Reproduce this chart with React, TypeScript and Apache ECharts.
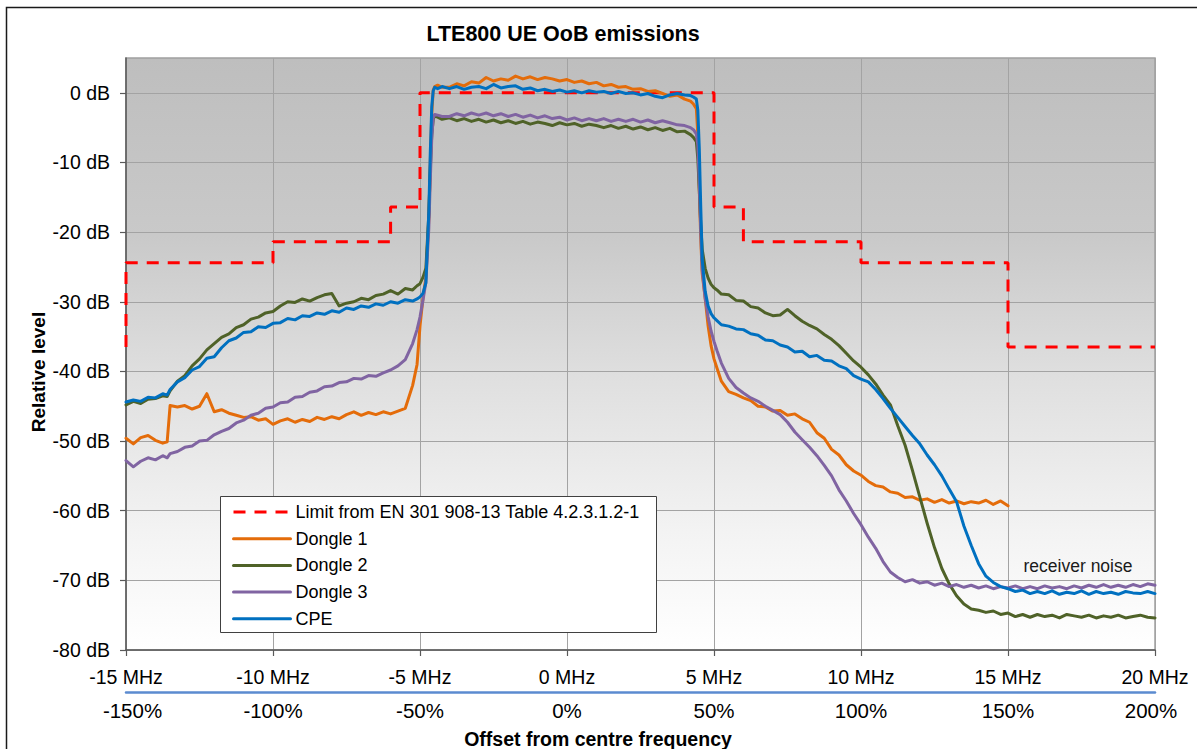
import React, { useEffect, useRef } from 'react';
import * as echarts from 'echarts';

// Frequency offset grid (MHz) shared by the measured traces
const FREQ_MHZ = [
  -15, -14.75, -14.5, -14.25, -14, -13.75, -13.6, -13.5, -13.25, -13, -12.75, -12.5, -12.25, -12, -11.75, -11.5, -11.25, -11, -10.75, -10.5, -10.25, -10, -9.75, -9.5, -9.25, -9, -8.75, -8.5, -8.25, -8, -7.75, -7.5, -7.25, -7, -6.75, -6.5, -6.25, -6, -5.75, -5.5, -5.25,
  -5.1, -5, -4.9, -4.8, -4.7, -4.65, -4.6, -4.55, -4.5, -4.4, -4.25,
  -4, -3.75, -3.5, -3.25, -3, -2.75, -2.5, -2.25, -2, -1.75, -1.5, -1.25, -1, -0.75, -0.5, -0.25, 0, 0.25, 0.5, 0.75, 1, 1.25, 1.5, 1.75, 2, 2.25, 2.5, 2.75, 3, 3.25, 3.5, 3.75, 4,
  4.2, 4.3, 4.4, 4.45, 4.5, 4.55, 4.6, 4.7, 4.8, 4.9, 5, 5.1, 5.25,
  5.5, 5.75, 6, 6.25, 6.5, 6.75, 7, 7.25, 7.5, 7.75, 8, 8.25, 8.5, 8.75, 9, 9.25, 9.5, 9.75, 10, 10.25, 10.5, 10.75, 11, 11.25, 11.5, 11.75, 12, 12.25, 12.5, 12.75, 13, 13.25, 13.5, 13.75, 14, 14.25, 14.5, 14.75, 15, 15.25, 15.5, 15.75, 16, 16.25, 16.5, 16.75, 17, 17.25, 17.5, 17.75, 18, 18.25, 18.5, 18.75, 19, 19.25, 19.5, 19.75, 20,
];

const DONGLE1_DB = [
  -49.6, -50.4, -49.5, -49.2, -49.9, -50.3, -50.1, -44.9, -45.1, -44.9, -45.4, -45.0, -43.2, -45.8, -45.5, -46.0, -46.3, -46.6, -46.5, -47.0, -46.8, -47.6, -47.1, -46.8, -47.3, -46.9, -47.2, -46.6, -46.9, -46.5, -46.8, -46.2, -45.8, -46.3, -45.9, -46.2, -45.8, -46.1, -45.7, -45.3, -42.0,
  -39.0, -33.5, -29.5, -26.5, -18, -10, -3, 0.4, 0.9, 1.1, 0.8,
  0.8, 1.3, 1.0, 1.6, 1.4, 2.2, 1.7, 2.0, 1.8, 2.4, 2.0, 2.3, 1.9, 2.2, 2.0, 1.7, 1.9, 1.5, 1.7, 1.3, 1.5, 1.0, 1.2, 0.8, 0.9, 0.5, 0.6, 0.2, 0.3, -0.1, -0.5, -0.3, -0.9,
  -1.2, -1.6, -2.3, -6, -14, -21, -26, -29.5, -33.5, -36.3, -38.2, -39.5, -41.4,
  -42.9, -43.3, -43.8, -44.2, -45.0, -45.1, -45.7, -45.6, -46.3, -46.1, -46.8, -47.3, -48.8, -49.6, -51.2, -52.0, -53.4, -54.3, -54.9, -55.8, -56.4, -56.6, -57.3, -57.5, -58.1, -58.0, -58.5, -58.3, -58.8, -58.4, -58.9, -58.6, -59.0, -58.7, -58.9, -58.5, -59.1, -58.6, -59.3,
  null, null, null, null, null, null, null, null, null, null, null, null, null, null, null, null, null, null, null, null,
];

const DONGLE2_DB = [
  -44.8, -44.3, -44.6, -44.0, -43.9, -43.5, -43.6, -42.8, -41.4, -40.6, -39.2, -38.2, -36.9, -36.0, -35.1, -34.6, -33.7, -33.3, -32.5, -32.2, -31.6, -31.4, -30.6, -30.0, -30.1, -29.6, -29.9, -29.4, -29.0, -28.8, -30.6, -30.2, -30.0, -29.5, -29.7, -29.1, -28.9, -28.4, -28.9, -28.1, -28.3,
  -27.7, -27.4, -26.5, -25.2, -17.5, -11, -6, -3.8, -3.3, -3.5, -3.8,
  -3.6, -4.0, -3.7, -4.1, -3.8, -4.2, -3.9, -4.3, -4.0, -4.4, -4.1, -4.5, -4.2, -4.4, -4.7, -4.3, -4.6, -4.4, -4.8, -4.5, -4.7, -5.0, -4.7, -5.1, -4.8, -5.2, -4.9, -5.3, -5.0, -5.4, -5.1, -5.6, -5.5,
  -6.0, -6.4, -7.0, -9.5, -14, -19, -22.5, -25.2, -26.6, -27.5, -28.0, -28.3, -28.9,
  -29.0, -29.8, -29.9, -30.7, -30.9, -31.6, -32.0, -31.9, -31.1, -32.0, -32.8, -33.4, -33.9, -34.7, -35.4, -36.3, -37.4, -38.5, -39.4, -40.5, -41.8, -43.4, -44.8, -47.8, -50.6, -54.2, -58.0, -61.8, -65.3, -68.3, -70.5, -72.2, -73.4, -74.1, -74.3, -74.6, -74.4, -74.9, -74.7, -75.2, -74.9, -75.3, -74.9, -75.2, -75.0, -75.4, -74.9, -75.1, -75.3, -75.0, -75.4, -75.1, -75.3, -75.0, -75.4, -75.2, -75.0, -75.3, -75.4,
];

const DONGLE3_DB = [
  -52.8, -53.7, -52.9, -52.4, -52.7, -52.1, -52.4, -51.8, -51.5, -50.9, -50.7, -50.0, -49.9, -49.1, -48.6, -48.2, -47.4, -47.0, -46.3, -46.0, -45.3, -45.1, -44.5, -44.4, -43.7, -43.6, -43.0, -42.8, -42.2, -42.1, -41.6, -41.5, -41.0, -41.1, -40.6, -40.7, -40.2, -39.8, -39.2, -38.3, -36.0,
  -34.0, -32.2, -29.8, -27.2, -19.5, -12.5, -6.5, -3.6, -3.1, -3.2, -3.4,
  -3.4, -3.0, -3.3, -2.9, -3.2, -2.9, -3.3, -3.0, -3.4, -3.1, -3.5, -3.2, -3.6, -3.3, -3.7, -3.5, -3.9, -3.6, -4.0, -3.7, -4.0, -3.7, -4.1, -3.8, -4.1, -3.8, -4.2, -3.9, -4.3, -4.0, -4.3, -4.6, -4.7,
  -5.0, -5.3, -5.9, -7.5, -13, -20, -25.5, -29.5, -32.2, -34.2, -35.7, -37.0, -38.8,
  -41.0, -42.3, -43.1, -43.8, -44.3, -45.0, -45.6, -46.2, -47.3, -48.7, -49.8, -50.9, -52.1, -53.5, -55.0, -57.0, -58.6, -60.4, -62.0, -63.8, -65.4, -67.3, -68.8, -69.6, -70.2, -69.9, -70.4, -70.2, -70.7, -70.4, -70.9, -70.6, -71.0, -70.7, -71.1, -70.8, -71.2, -70.9, -71.1, -70.8, -71.2, -70.9, -71.2, -70.8, -71.1, -70.9, -71.2, -70.8, -71.1, -70.7, -71.0, -70.6, -71.0, -70.7, -71.0, -70.6, -70.9, -70.5, -70.7,
];

const CPE_DB = [
  -44.4, -44.1, -44.3, -43.7, -43.8, -43.2, -43.4, -42.6, -41.5, -40.9, -39.8, -39.3, -38.1, -37.9, -36.6, -35.6, -35.2, -34.4, -34.3, -33.6, -33.7, -33.1, -33.0, -32.4, -32.6, -32.0, -32.1, -31.6, -31.8, -31.3, -31.5, -30.9, -31.1, -30.6, -30.8, -30.3, -30.5, -30.0, -30.2, -29.7, -29.9,
  -29.6, -29.3, -28.8, -27.3, -17, -8.5, -2, 0.3, 0.8, 0.6, 0.9,
  0.6, 0.9, 0.5, 0.8, 0.9, 0.6, 1.2, 0.7, 0.9, 1.0, 0.5, 0.7, 0.3, 0.5, 0.2, 0.4, 0.1, 0.3, 0.0, 0.3, 0.1, 0.2, -0.1, 0.2, -0.1, 0.0, -0.3, -0.1, -0.5, -0.7, -0.3, -0.1, -0.3,
  -0.4, -0.6, -0.9, -2.5, -8, -16.5, -24, -28.5, -30.6, -31.7, -32.3, -32.7, -33.3,
  -33.5, -33.9, -34.0, -34.6, -34.8, -35.5, -35.6, -36.2, -36.5, -37.2, -37.1, -37.9, -37.7, -38.4, -38.5, -39.2, -39.6, -40.6, -41.1, -41.5, -42.6, -43.9, -45.3, -46.6, -47.9, -49.2, -50.4, -52.0, -53.4, -55.0, -56.9, -58.7, -62.2, -65.0, -67.6, -69.4, -70.3, -70.9, -71.2, -71.6, -71.4, -71.9, -71.6, -71.9, -71.5, -72.0, -71.7, -71.9, -71.5, -72.0, -71.6, -71.9, -71.7, -72.0, -71.6, -71.8, -71.9, -71.6, -71.9,
];

// Limit mask (EN 301 908-13 Table 4.2.3.1.2-1), drawn as a step line
const LIMIT_FREQ = [-15, -15, -10, -6, -5, 5, 6, 10, 15, 20];
const LIMIT_DB = [-36.5, -24.4, -21.4, -16.4, 0, -16.4, -21.4, -24.4, -36.5, -36.5];

const X_TICKS = [-15, -10, -5, 0, 5, 10, 15, 20];
const Y_TICKS = [-80, -70, -60, -50, -40, -30, -20, -10, 0];

const SERIES_NAMES = ['Limit from EN 301 908-13 Table 4.2.3.1.2-1', 'Dongle 1', 'Dongle 2', 'Dongle 3', 'CPE'];
const SERIES_COLORS = ['#FF0000', '#E46C0A', '#4F6228', '#8064A2', '#0070C0'];

const FONT = "'Liberation Sans', Arial, sans-serif";

function pairs(xs: number[], ys: (number | null)[]) {
  const out: [number, number][] = [];
  for (let i = 0; i < xs.length && i < ys.length; i++) {
    const y = ys[i];
    if (y !== null && y !== undefined) out.push([xs[i], y]);
  }
  return out;
}

export default function App() {
  const ref = useRef<HTMLDivElement>(null);

  useEffect(() => {
    if (!ref.current) return;
    const chart = echarts.init(ref.current, undefined, { renderer: 'svg' });

    const traceSeries = [DONGLE1_DB, DONGLE2_DB, DONGLE3_DB, CPE_DB].map((vals, k) => ({
      name: SERIES_NAMES[k + 1],
      type: 'line',
      data: pairs(FREQ_MHZ, vals),
      symbol: 'none',
      showSymbol: false,
      xAxisIndex: 0,
      yAxisIndex: 0,
      lineStyle: { color: SERIES_COLORS[k + 1], width: 3, join: 'round', cap: 'round' },
      itemStyle: { color: SERIES_COLORS[k + 1] },
      z: 3 + k,
    }));

    const pctFontSize = 20.5;

    const option: any = {
      animation: false,
      backgroundColor: '#ffffff',
      textStyle: { fontFamily: FONT },
      title: {
        text: 'LTE800 UE OoB emissions',
        left: 563,
        top: 23,
        textAlign: 'center',
        padding: 0,
        textStyle: { fontSize: 21.5, fontWeight: 'bold', color: '#000', fontFamily: FONT },
      },
      grid: {
        left: 126,
        top: 58,
        width: 1029,
        height: 592,
        show: true,
        backgroundColor: new echarts.graphic.LinearGradient(0, 0, 0, 1, [
          { offset: 0, color: '#bebebe' },
          { offset: 0.3, color: '#c9c9c9' },
          { offset: 0.55, color: '#e0e0e0' },
          { offset: 0.8, color: '#f3f3f3' },
          { offset: 1, color: '#ffffff' },
        ]),
        borderColor: '#a0a0a0',
        borderWidth: 1.5,
      },
      legend: {
        orient: 'vertical',
        left: 232,
        top: 503,
        padding: 0,
        itemGap: 8.7,
        itemWidth: 57,
        itemHeight: 14,
        selectedMode: false,
        data: SERIES_NAMES,
        itemStyle: { opacity: 0 },
        lineStyle: { width: 3 },
        textStyle: { fontSize: 18, color: '#000', lineHeight: 18, fontFamily: FONT },
        z: 20,
      },
      xAxis: [
        {
          type: 'value',
          min: -15,
          max: 20,
          interval: 5,
          position: 'bottom',
          axisLine: { show: true, onZero: false, lineStyle: { color: '#595959', width: 1.5 } },
          axisTick: { show: true, length: 6, customValues: X_TICKS, lineStyle: { color: '#595959', width: 1.2 } },
          axisLabel: {
            customValues: X_TICKS,
            margin: 17,
            fontSize: 19.5,
            color: '#000',
            fontFamily: FONT,
            formatter: (v: number) => `${v} MHz`,
          },
          splitLine: { show: true, lineStyle: { color: '#a3a3a3', width: 1 } },
        },
        {
          type: 'value',
          min: -15,
          max: 20,
          interval: 5,
          position: 'bottom',
          offset: 42,
          axisLine: { show: true, onZero: false, lineStyle: { color: '#5b8bd0', width: 2.5 } },
          axisTick: { show: false },
          axisLabel: {
            customValues: X_TICKS,
            margin: 8,
            fontSize: pctFontSize,
            color: '#000',
            fontFamily: FONT,
            formatter: (v: number) => {
              const t = `${Math.round(v * 10)}%`;
              if (v === X_TICKS[0]) return `{lft|${t}}`;
              if (v === X_TICKS[X_TICKS.length - 1]) return `{rgt|${t}}`;
              return t;
            },
            rich: {
              lft: { fontSize: pctFontSize, fontFamily: FONT, color: '#000', padding: [0, 0, 0, 13] },
              rgt: { fontSize: pctFontSize, fontFamily: FONT, color: '#000', padding: [0, 8, 0, 0] },
            },
          },
          splitLine: { show: false },
        },
      ],
      yAxis: {
        type: 'value',
        min: -80,
        max: 5,
        interval: 10,
        axisLine: { show: true, onZero: false, lineStyle: { color: '#595959', width: 1.5 } },
        axisTick: { show: true, length: 6, customValues: Y_TICKS, lineStyle: { color: '#595959', width: 1.2 } },
        axisLabel: {
          customValues: Y_TICKS,
          margin: 16,
          fontSize: 19.5,
          color: '#000',
          fontFamily: FONT,
          formatter: (v: number) => `${v} dB`,
        },
        splitLine: { show: true, lineStyle: { color: '#a3a3a3', width: 1 } },
      },
      graphic: [
        {
          type: 'rect',
          silent: true,
          z: 100,
          shape: { x: 6.5, y: 7.5, width: 1210, height: 770 },
          style: { fill: 'none', stroke: '#1a1a1a', lineWidth: 1.5 },
        },
        {
          type: 'rect',
          silent: true,
          z: 10,
          shape: { x: 220.5, y: 496.5, width: 436, height: 136 },
          style: { fill: '#ffffff', stroke: '#404040', lineWidth: 1 },
        },
        {
          type: 'text',
          silent: true,
          x: 38,
          y: 372,
          rotation: Math.PI / 2,
          style: {
            text: 'Relative level',
            fill: '#000',
            font: `bold 19px ${FONT}`,
            textAlign: 'center',
            textVerticalAlign: 'middle',
            verticalAlign: 'middle',
          },
        },
        {
          type: 'text',
          silent: true,
          x: 598,
          y: 739,
          style: {
            text: 'Offset from centre frequency',
            fill: '#000',
            font: `bold 19.5px ${FONT}`,
            textAlign: 'center',
            verticalAlign: 'middle',
            textVerticalAlign: 'middle',
          },
        },
        {
          type: 'text',
          silent: true,
          x: 1078,
          y: 566,
          style: {
            text: 'receiver noise',
            fill: '#1a1a1a',
            font: `17.5px ${FONT}`,
            textAlign: 'center',
            verticalAlign: 'middle',
            textVerticalAlign: 'middle',
          },
        },
      ],
      series: [
        {
          name: SERIES_NAMES[0],
          type: 'line',
          step: 'end',
          data: pairs(LIMIT_FREQ, LIMIT_DB),
          symbol: 'none',
          showSymbol: false,
          xAxisIndex: 0,
          yAxisIndex: 0,
          lineStyle: { color: SERIES_COLORS[0], width: 3, type: [12, 9], cap: 'butt' },
          itemStyle: { color: SERIES_COLORS[0] },
          z: 2,
        },
        ...traceSeries,
      ],
    };

    chart.setOption(option);
    return () => {
      chart.dispose();
    };
  }, []);

  return (
    <div
      ref={ref}
      style={{ position: 'fixed', left: 0, top: 0, width: 1197, height: 749, background: '#fff' }}
    />
  );
}
